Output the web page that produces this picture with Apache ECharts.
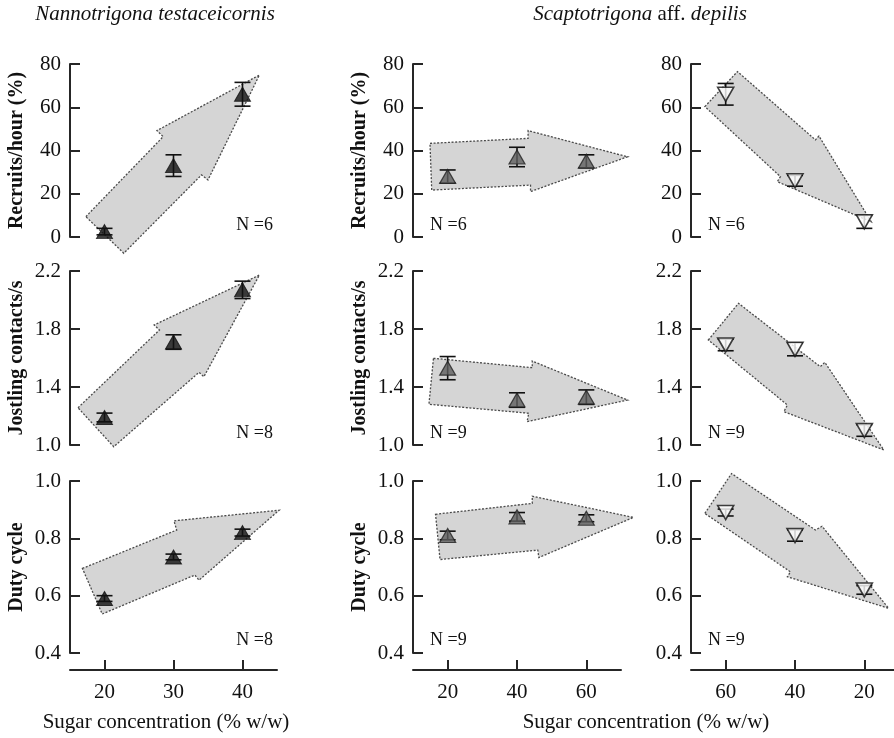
<!DOCTYPE html>
<html>
<head>
<meta charset="utf-8">
<script src="https://cdn.jsdelivr.net/npm/echarts@6/dist/echarts.min.js"></script>
<style>html,body{margin:0;padding:0;background:#fff}#chart{width:894px;height:738px}</style>
</head>
<body>
<div id="chart"></div>
<script>
// sugar concentrations (% w/w)
var concN = [20, 30, 40];
var concS = [20, 40, 60];
var concSdesc = [60, 40, 20];

// means and error (SE)
var recruitsN = [2.5, 33, 66];
var recruitsNErr = [1.5, 5, 5.5];
var recruitsSup = [28, 37, 35];
var recruitsSupErr = [3, 4.5, 3];
var recruitsSdown = [66, 26, 7];
var recruitsSdownErr = [5, 2.5, 3];

var jostlingN = [1.19, 1.71, 2.07];
var jostlingNErr = [0.03, 0.05, 0.06];
var jostlingSup = [1.53, 1.31, 1.33];
var jostlingSupErr = [0.08, 0.05, 0.05];
var jostlingSdown = [1.69, 1.66, 1.10];
var jostlingSdownErr = [0.04, 0.045, 0.04];

var dutyN = [0.59, 0.735, 0.82];
var dutyNErr = [0.01, 0.01, 0.012];
var dutySup = [0.81, 0.875, 0.87];
var dutySupErr = [0.015, 0.015, 0.012];
var dutySdown = [0.89, 0.81, 0.62];
var dutySdownErr = [0.012, 0.02, 0.015];

// trend arrows (outline vertices in data units)
var arrowRecruitsN = [[17.3, 9.4], [28.5, 46.4], [27.6, 49.2], [42.45, 74.9], [35.0, 26.4], [34.05, 28.7], [22.8, -7.5]];
var arrowRecruitsSup = [[14.9, 43.3], [43.2, 45.6], [43.2, 49.2], [71.9, 37.1], [43.9, 21.0], [43.9, 24.0], [15.4, 21.7]];
var arrowRecruitsSdown = [[66.0, 60.3], [56.6, 76.5], [34.1, 44.9], [33.1, 46.7], [18.0, 7.0], [45.1, 25.6], [44.2, 27.9]];
var arrowJostlingN = [[16.16, 1.257], [27.96, 1.793], [27.2, 1.828], [42.45, 2.172], [34.4, 1.471], [33.7, 1.501], [21.34, 0.988]];
var arrowJostlingSup = [[15.9, 1.598], [44.4, 1.533], [44.4, 1.579], [71.9, 1.31], [42.9, 1.161], [43.4, 1.219], [14.6, 1.281]];
var arrowJostlingSdown = [[65.0, 1.724], [56.3, 1.977], [32.7, 1.54], [31.4, 1.57], [14.4, 0.966], [43.2, 1.23], [42.2, 1.276]];
var arrowDutyN = [[16.8, 0.695], [30.46, 0.829], [30.07, 0.861], [45.3, 0.898], [33.7, 0.654], [33.1, 0.672], [19.67, 0.536]];
var arrowDutySup = [[16.5, 0.884], [44.4, 0.922], [44.4, 0.947], [73.6, 0.873], [46.3, 0.733], [46.0, 0.759], [17.8, 0.726]];
var arrowDutySdown = [[66.0, 0.887], [58.3, 1.026], [34.1, 0.829], [32.2, 0.842], [13.0, 0.556], [42.2, 0.666], [41.3, 0.683]];

// axis ticks
var recruitsTicks = [0, 20, 40, 60, 80];
var jostlingTicks = [1.0, 1.4, 1.8, 2.2];
var dutyTicks = [0.4, 0.6, 0.8, 1.0];
var xTicksN = [20, 30, 40];
var xTicksS = [20, 40, 60];

var sampleSizes = [['N =6', 'N =6', 'N =6'], ['N =8', 'N =9', 'N =9'], ['N =8', 'N =9', 'N =9']];
var rowNames = ['Recruits/hour (%)', 'Jostling contacts/s', 'Duty cycle'];

var FONT = '"Liberation Serif", "DejaVu Serif", serif';
var AXC = '#262626';
var TXT = '#111';

var rowTop = [64, 271, 481];
var rowH = [173, 174, 172];
var colLeft = [70, 413, 691];
var colW = [207, 208, 208];
var colRange = [[15, 45], [10, 70], [10, 70]];

var rowsY = [
  { min: 0, max: 80, ticks: recruitsTicks, fmt: function (v) { return String(v); } },
  { min: 1.0, max: 2.2, ticks: jostlingTicks, fmt: function (v) { return v.toFixed(1); } },
  { min: 0.4, max: 1.0, ticks: dutyTicks, fmt: function (v) { return v.toFixed(1); } }
];

var panels = [
  [
    { x: concN, y: recruitsN, e: recruitsNErr, arrow: arrowRecruitsN, kind: 'black' },
    { x: concS, y: recruitsSup, e: recruitsSupErr, arrow: arrowRecruitsSup, kind: 'grey' },
    { x: concSdesc, y: recruitsSdown, e: recruitsSdownErr, arrow: arrowRecruitsSdown, kind: 'open' }
  ],
  [
    { x: concN, y: jostlingN, e: jostlingNErr, arrow: arrowJostlingN, kind: 'black' },
    { x: concS, y: jostlingSup, e: jostlingSupErr, arrow: arrowJostlingSup, kind: 'grey' },
    { x: concSdesc, y: jostlingSdown, e: jostlingSdownErr, arrow: arrowJostlingSdown, kind: 'open' }
  ],
  [
    { x: concN, y: dutyN, e: dutyNErr, arrow: arrowDutyN, kind: 'black' },
    { x: concS, y: dutySup, e: dutySupErr, arrow: arrowDutySup, kind: 'grey' },
    { x: concSdesc, y: dutySdown, e: dutySdownErr, arrow: arrowDutySdown, kind: 'open' }
  ]
];

var markerStyle = {
  black: { symbolRotate: 0, itemStyle: { color: '#111', borderColor: '#111', borderWidth: 1 } },
  grey: { symbolRotate: 0, itemStyle: { color: '#5e5e5e', borderColor: '#222', borderWidth: 1.2 } },
  open: { symbolRotate: 180, itemStyle: { color: '#fff', borderColor: '#111', borderWidth: 1.6 } }
};

var grids = [], xAxes = [], yAxes = [], series = [], graphics = [];

for (var r = 0; r < 3; r++) {
  for (var c = 0; c < 3; c++) {
    var idx = r * 3 + c;
    var p = panels[r][c];
    grids.push({ left: colLeft[c], top: rowTop[r], width: colW[c], height: rowH[r], outerBoundsMode: 'none' });

    var bottom = r === 2;
    xAxes.push({
      gridIndex: idx, type: 'value', min: colRange[c][0], max: colRange[c][1],
      inverse: c === 2, show: bottom, offset: 17,
      axisLine: { show: true, lineStyle: { color: AXC, width: 2 } },
      axisTick: { show: true, inside: true, length: 10, lineStyle: { color: AXC, width: 2 }, customValues: c === 0 ? xTicksN : xTicksS },
      axisLabel: { show: true, margin: 12, fontFamily: FONT, fontSize: 21, color: TXT, customValues: c === 0 ? xTicksN : xTicksS },
      splitLine: { show: false }
    });

    var ry = rowsY[r];
    yAxes.push({
      gridIndex: idx, type: 'value', min: ry.min, max: ry.max,
      name: c < 2 ? rowNames[r] : '', nameLocation: 'middle', nameRotate: 90, nameGap: 43,
      nameTextStyle: { fontFamily: FONT, fontSize: 20, fontWeight: 'bold', color: TXT },
      axisLine: { show: true, lineStyle: { color: AXC, width: 2 } },
      axisTick: { show: true, inside: true, length: 10, lineStyle: { color: AXC, width: 2 }, customValues: ry.ticks },
      axisLabel: { margin: 9, fontFamily: FONT, fontSize: 21, color: TXT, formatter: ry.fmt, customValues: ry.ticks },
      splitLine: { show: false }
    });

    (function (pts) {
      series.push({
        type: 'custom', xAxisIndex: idx, yAxisIndex: idx, z: 1, silent: true, clip: false,
        data: [0],
        renderItem: function (params, api) {
          return {
            type: 'polygon',
            shape: { points: pts.map(function (q) { return api.coord(q); }) },
            style: { fill: '#d5d5d5', stroke: '#4a4a4a', lineWidth: 1.3, lineDash: [2, 1.6] }
          };
        }
      });
    })(p.arrow);

    series.push({
      type: 'custom', xAxisIndex: idx, yAxisIndex: idx, z: 3, silent: true, clip: false,
      data: p.x.map(function (x, i) { return [x, p.y[i] - p.e[i], p.y[i] + p.e[i]]; }),
      renderItem: function (params, api) {
        var lo = api.coord([api.value(0), api.value(1)]);
        var hi = api.coord([api.value(0), api.value(2)]);
        var w = 8;
        var st = { stroke: '#111', lineWidth: 1.6 };
        return {
          type: 'group', children: [
            { type: 'line', shape: { x1: lo[0], y1: lo[1], x2: hi[0], y2: hi[1] }, style: st },
            { type: 'line', shape: { x1: lo[0] - w, y1: lo[1], x2: lo[0] + w, y2: lo[1] }, style: st },
            { type: 'line', shape: { x1: hi[0] - w, y1: hi[1], x2: hi[0] + w, y2: hi[1] }, style: st }
          ]
        };
      }
    });

    var ms = markerStyle[p.kind];
    series.push({
      type: 'scatter', xAxisIndex: idx, yAxisIndex: idx, z: 4, silent: true,
      symbol: 'triangle', symbolSize: [16, 14], symbolRotate: ms.symbolRotate,
      itemStyle: ms.itemStyle,
      data: p.x.map(function (x, i) { return [x, p.y[i]]; })
    });

    // sample size label
    var nx = c === 0 ? colLeft[c] + colW[c] - 4 : colLeft[c] + 17;
    var ny = [225, 433, 640][r];
    graphics.push({
      type: 'text', x: nx, y: ny, silent: true,
      style: { text: sampleSizes[r][c], font: '18px ' + FONT, fill: TXT, align: c === 0 ? 'right' : 'left', verticalAlign: 'middle' }
    });
  }
}

graphics.push({
  type: 'text', x: 155, y: 14,
  style: { text: 'Nannotrigona testaceicornis', font: 'italic 21px ' + FONT, fill: TXT, align: 'center', verticalAlign: 'middle' }
});
graphics.push({
  type: 'text', x: 640, y: 14,
  style: {
    text: '{i|Scaptotrigona} aff. {i|depilis}', font: '21px ' + FONT, fill: TXT, align: 'center', verticalAlign: 'middle',
    rich: { i: { fontStyle: 'italic', fontFamily: FONT, fontSize: 21 } }
  }
});
graphics.push({
  type: 'text', x: 166, y: 722,
  style: { text: 'Sugar concentration (% w/w)', font: '21px ' + FONT, fill: TXT, align: 'center', verticalAlign: 'middle' }
});
graphics.push({
  type: 'text', x: 646, y: 722,
  style: { text: 'Sugar concentration (% w/w)', font: '21px ' + FONT, fill: TXT, align: 'center', verticalAlign: 'middle' }
});

var chart = echarts.init(document.getElementById('chart'));
chart.setOption({
  backgroundColor: '#fff',
  animation: false,
  grid: grids,
  xAxis: xAxes,
  yAxis: yAxes,
  series: series,
  graphic: graphics
});
</script>
</body>
</html>
